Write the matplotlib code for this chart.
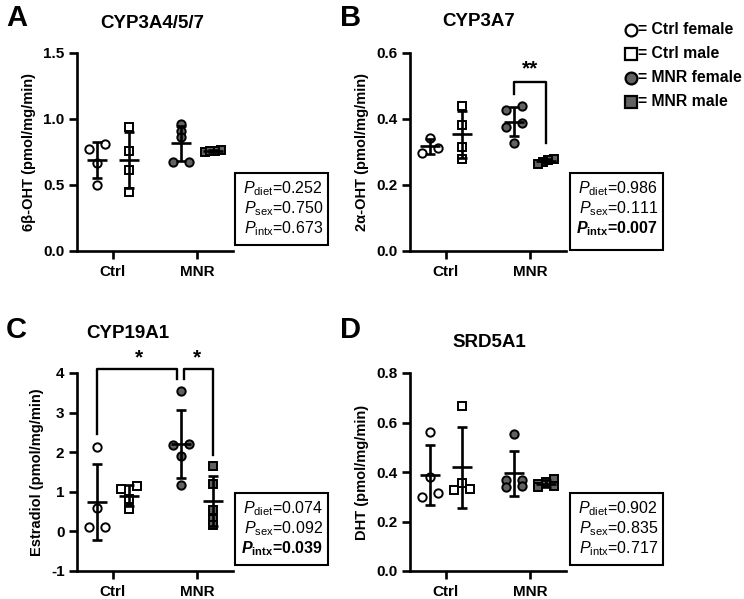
import numpy as np
import matplotlib
matplotlib.use("Agg")
import matplotlib.pyplot as plt
from matplotlib.patches import Rectangle
from matplotlib.lines import Line2D

plt.rcParams['font.family'] = ['Liberation Sans', 'DejaVu Sans']
plt.rcParams['axes.unicode_minus'] = False
plt.rcParams['mathtext.fontset'] = 'custom'
plt.rcParams['mathtext.rm'] = 'Liberation Sans'
plt.rcParams['mathtext.it'] = 'Liberation Sans:italic'
plt.rcParams['mathtext.bf'] = 'Liberation Sans:bold'
plt.rcParams['mathtext.bfit'] = 'Liberation Sans:italic:bold'

# ---- data ----
groups = ['Ctrl', 'MNR']

a_ctrl_f = [0.77, 0.81, 0.67, 0.50]
a_ctrl_m = [0.94, 0.76, 0.61, 0.45]
a_mnr_f = [0.962, 0.909, 0.86, 0.677, 0.677]
a_mnr_m = [0.75, 0.765, 0.755, 0.755]
a_pvals = ['0.252', '0.750', '0.673']

b_ctrl_f = [0.342, 0.313, 0.298]
b_ctrl_m = [0.438, 0.382, 0.316, 0.278]
b_mnr_f = [0.44, 0.428, 0.389, 0.377, 0.328]
b_mnr_m = [0.28, 0.275, 0.27, 0.265]
b_pvals = ['0.986', '0.111', '0.007']

c_ctrl_f = [2.13, 0.58, 0.12, 0.10]
c_ctrl_m = [1.14, 1.07, 0.82, 0.57]
c_mnr_f = [3.54, 2.20, 2.17, 1.90, 1.17]
c_mnr_m = [1.66, 1.20, 0.55, 0.32, 0.15]
c_pvals = ['0.074', '0.092', '0.039']

d_ctrl_f = [0.562, 0.38, 0.315, 0.299]
d_ctrl_m = [0.665, 0.356, 0.33, 0.326]
d_mnr_f = [0.555, 0.369, 0.366, 0.342, 0.34]
d_mnr_m = [0.371, 0.361, 0.352, 0.344, 0.338]
d_pvals = ['0.902', '0.835', '0.717']

gray = '#626262'
W, H = 744, 599

fig = plt.figure(figsize=(7.44, 5.99), dpi=100)


def fx(px):
    return px / W


def fy(py):
    return 1 - py / H


def spread(vals, ppu, tol=6.0, width=0.18):
    # prism-like horizontal spreading of points that overlap vertically
    vals = np.asarray(vals, dtype=float)
    order = np.argsort(vals)[::-1]
    clusters = []
    for i in order:
        if clusters and (vals[clusters[-1][0]] - vals[i]) * ppu < tol:
            clusters[-1].append(i)
        else:
            clusters.append([i])
    offs = np.zeros(len(vals))
    for c in clusters:
        if len(c) > 1:
            cs = sorted(c, key=lambda k: vals[k])
            offs[cs] = np.linspace(-width / 2, width / 2, len(c))
    return offs


def panel(left, top, ylim, yticks, yticklabels, ylabel, sets):
    ax = fig.add_axes([fx(left), fy(top + 198), fx(156), 198 / H])
    ax.set_xlim(-36 / 84, 120 / 84)
    ax.set_ylim(*ylim)
    ppu = 198 / (ylim[1] - ylim[0])
    for s in ['top', 'right']:
        ax.spines[s].set_visible(False)
    for s in ['left', 'bottom']:
        ax.spines[s].set_linewidth(1.9)
    ax.set_xticks([0, 1])
    ax.set_xticklabels(groups, fontsize=11, fontweight='bold')
    ax.set_yticks(yticks)
    ax.set_yticklabels(yticklabels, fontsize=11, fontweight='bold')
    ax.tick_params(width=1.9, length=6, pad=3)
    ax.tick_params(axis='x', pad=4)
    ax.set_ylabel(ylabel, fontsize=10.5, fontweight='bold', labelpad=5)

    styles = [('o', 'white', -0.19, 0), ('s', 'white', 0.19, 0),
              ('o', gray, -0.19, 1), ('s', gray, 0.19, 1)]
    for vals, (mk, fc, dx, g) in zip(sets, styles):
        vals = np.asarray(vals)
        x0 = g + dx
        xs = x0 + spread(vals, ppu)
        ax.plot(xs, vals, linestyle='none', marker=mk, ms=6, mfc=fc,
                mec='black', mew=1.4, zorder=2, clip_on=False)
        m, sd = vals.mean(), vals.std(ddof=1)
        ax.errorbar([x0], [m], yerr=[sd], fmt='none', ecolor='black',
                    elinewidth=1.9, capsize=3.8, capthick=1.9, zorder=3)
        ax.hlines(m, x0 - 0.12, x0 + 0.12, color='black', lw=1.9, zorder=3)
    return ax


def pbox(left, top, right, bottom, pvals, bold_last):
    fig.add_artist(Rectangle((fx(left), fy(bottom)), fx(right - left),
                             (bottom - top) / H, transform=fig.transFigure,
                             fill=False, ec='black', lw=1.5))
    subs = ['diet', 'sex', 'intx']
    for k, (sub, p) in enumerate(zip(subs, pvals)):
        yb = top + 20 + 20 * k
        if bold_last and k == 2:
            s = r'$\mathbfit{P}_{\mathbf{' + sub + '}}$=' + p
            fw = 'bold'
        else:
            s = r'$\mathit{P}_{\mathrm{' + sub + '}}$=' + p
            fw = 'normal'
        fig.text(fx(right - 5), fy(yb), s, ha='right', va='baseline',
                 fontsize=11.5, fontweight=fw)


# A
axA = panel(77, 53, (0, 1.5), [0, 0.5, 1.0, 1.5], ['0.0', '0.5', '1.0', '1.5'],
            '6\u03b2-OHT (pmol/mg/min)', [a_ctrl_f, a_ctrl_m, a_mnr_f, a_mnr_m])
pbox(235, 173, 328, 245, a_pvals, False)

# B
axB = panel(410, 53, (0, 0.6), [0, 0.2, 0.4, 0.6], ['0.0', '0.2', '0.4', '0.6'],
            '2\u03b1-OHT (pmol/mg/min)', [b_ctrl_f, b_ctrl_m, b_mnr_f, b_mnr_m])
pbox(570, 173, 663, 250, b_pvals, True)
axB.plot([0.81, 0.81, 1.19, 1.19], [0.475, 0.513, 0.513, 0.326], color='black',
         lw=1.7, clip_on=False)
axB.text(1.0, 0.535, '**', ha='center', va='baseline', fontsize=15,
         fontweight='bold')

# C
axC = panel(77, 373, (-1, 4), [-1, 0, 1, 2, 3, 4], ['-1', '0', '1', '2', '3', '4'],
            'Estradiol (pmol/mg/min)', [c_ctrl_f, c_ctrl_m, c_mnr_f, c_mnr_m])
pbox(235, 493, 328, 565, c_pvals, True)
axC.plot([-0.19, -0.19, 0.76, 0.76], [2.45, 4.10, 4.10, 3.86], color='black',
         lw=1.7, clip_on=False)
axC.plot([0.85, 0.85, 1.19, 1.19], [3.86, 4.10, 4.10, 1.94], color='black',
         lw=1.7, clip_on=False)
axC.text(0.31, 4.25, '*', ha='center', va='baseline', fontsize=15,
         fontweight='bold')
axC.text(1.0, 4.25, '*', ha='center', va='baseline', fontsize=15,
         fontweight='bold')

# D
axD = panel(410, 373, (0, 0.8), [0, 0.2, 0.4, 0.6, 0.8],
            ['0.0', '0.2', '0.4', '0.6', '0.8'],
            'DHT (pmol/mg/min)', [d_ctrl_f, d_ctrl_m, d_mnr_f, d_mnr_m])
pbox(570, 493, 663, 565, d_pvals, False)

# titles and panel letters
fig.text(fx(152), fy(23), 'CYP3A4/5/7', ha='center', va='center', fontsize=13.5, fontweight='bold')
fig.text(fx(479), fy(22), 'CYP3A7', ha='center', va='center', fontsize=13.5, fontweight='bold')
fig.text(fx(128), fy(333), 'CYP19A1', ha='center', va='center', fontsize=13.5, fontweight='bold')
fig.text(fx(489), fy(342), 'SRD5A1', ha='center', va='center', fontsize=13.5, fontweight='bold')
for lbl, (x, y) in zip('ABCD', [(6, 18), (340, 18), (6, 330), (340, 330)]):
    fig.text(fx(x), fy(y), lbl, ha='left', va='center', fontsize=21, fontweight='bold')

# legend
leg = [('o', 'white', '= Ctrl female'), ('s', 'white', '= Ctrl male'),
       ('o', gray, '= MNR female'), ('s', gray, '= MNR male')]
for k, (mk, fc, txt) in enumerate(leg):
    yy = 30 + 24 * k
    fig.add_artist(Line2D([fx(631)], [fy(yy)], marker=mk, ms=8.5, mfc=fc, mec='black',
                          mew=1.6, linestyle='none', transform=fig.transFigure))
    fig.text(fx(638), fy(yy), txt, ha='left', va='center', fontsize=11.3,
             fontweight='bold')

fig.savefig('out.png', dpi=100)
